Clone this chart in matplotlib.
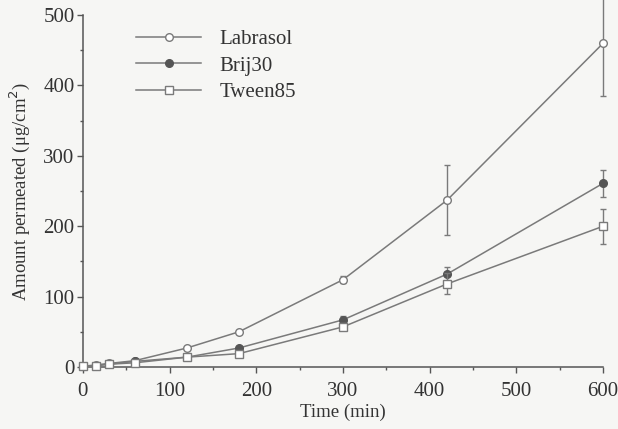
import matplotlib.pyplot as plt
from matplotlib.ticker import MultipleLocator
from matplotlib.lines import Line2D

plt.rcParams['font.family'] = ['Liberation Serif', 'DejaVu Serif']

time = [0, 15, 30, 60, 120, 180, 300, 420, 600]
labrasol = [1, 3, 5, 9, 27, 50, 124, 237, 460]
labrasol_err = [0, 0, 0, 1, 2, 3, 5, 50, 75]
brij30 = [1, 2, 4, 8, 14, 27, 67, 132, 261]
brij30_err = [0, 0, 0, 1, 1, 2, 6, 10, 19]
tween85 = [1, 2, 4, 6, 14, 19, 57, 118, 200]
tween85_err = [0, 0, 0, 1, 1, 2, 5, 15, 25]

line_col = '#7a7a7a'
bg = '#f6f6f4'
txt = '#333333'

fig = plt.figure(figsize=(6.18, 4.29), dpi=100, facecolor=bg)
ax = fig.add_axes([0.134, 0.1445, 0.842, 0.8205], facecolor=bg)

common = dict(color=line_col, lw=1.1, ms=5.5, mew=1.0, capsize=2.5,
              elinewidth=1.0, ecolor=line_col, clip_on=False)
ax.errorbar(time, labrasol, yerr=labrasol_err, marker='o', mfc='white',
            mec=line_col, zorder=3, **common)
ax.errorbar(time, brij30, yerr=brij30_err, marker='o', mfc='#555555',
            mec='#555555', zorder=4, **common)
ax.errorbar(time, tween85, yerr=tween85_err, marker='s', mfc='white',
            mec=line_col, zorder=5, **common)

ax.set_xlim(0, 600)
ax.set_ylim(0, 500)
ax.xaxis.set_major_locator(MultipleLocator(100))
ax.xaxis.set_minor_locator(MultipleLocator(50))
ax.yaxis.set_major_locator(MultipleLocator(100))
ax.yaxis.set_minor_locator(MultipleLocator(50))
for s in ['top', 'right']:
    ax.spines[s].set_visible(False)
for s in ['left', 'bottom']:
    ax.spines[s].set_color('#555555')
    ax.spines[s].set_linewidth(1.1)
ax.tick_params(which='major', direction='out', length=4, width=1, color='#555555',
               labelsize=15, labelcolor=txt, pad=2)
ax.tick_params(axis='x', which='major', pad=7)
ax.tick_params(which='minor', direction='out', length=2, width=1, color='#555555')

ax.set_xlabel('Time (min)', fontsize=13.5, color=txt, labelpad=2)
ax.set_ylabel('Amount permeated (\u03bcg/cm$^2$)', fontsize=13.5, color=txt, labelpad=8)

handles = [
    Line2D([], [], color=line_col, lw=1.1, marker='o', ms=5.5, mfc='white', mec=line_col),
    Line2D([], [], color=line_col, lw=1.1, marker='o', ms=5.5, mfc='#555555', mec='#555555'),
    Line2D([], [], color=line_col, lw=1.1, marker='s', ms=5.5, mfc='white', mec=line_col),
]
leg = ax.legend(handles, ['Labrasol', 'Brij30', 'Tween85'], loc='upper left',
                bbox_to_anchor=(0.067, 1.012), frameon=False, fontsize=15,
                handlelength=3.1, labelspacing=0.33, handletextpad=0.9)
for t in leg.get_texts():
    t.set_color(txt)

fig.savefig('out.png', dpi=100, facecolor=bg)
